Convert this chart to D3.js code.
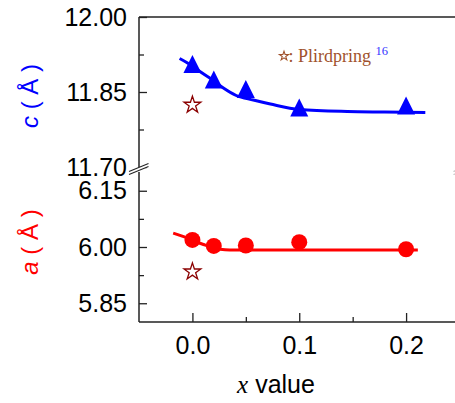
<!DOCTYPE html>
<html>
<head>
<meta charset="utf-8">
<script src="https://cdn.jsdelivr.net/npm/d3@7/dist/d3.min.js"></script>
<style>
  html, body { margin: 0; padding: 0; background: #fff; }
  svg { display: block; }
</style>
</head>
<body>
<div id="chart"></div>
<script>
// Lattice parameters versus substitution level x

// measured points
const xValues = [0.0, 0.02, 0.05, 0.1, 0.2];
const cValues = [11.906, 11.875, 11.856, 11.819, 11.823];
const aValues = [6.019, 6.003, 6.004, 6.013, 5.994];

// literature reference (star)
const refX = [0.0];
const refC = [11.824];
const refA = [5.934];

// fitted trend lines
const cFitX = [-0.012, 0.0, 0.007, 0.019, 0.029, 0.041, 0.057, 0.073, 0.1, 0.145, 0.18, 0.218];
const cFitY = [11.917, 11.902, 11.891, 11.874, 11.858, 11.843, 11.834, 11.826, 11.815, 11.811, 11.810, 11.809];
const aFitX = [-0.018, 0.0, 0.007, 0.012, 0.018, 0.026, 0.035, 0.1, 0.211];
const aFitY = [6.037, 6.019, 6.010, 6.005, 5.999, 5.994, 5.992, 5.992, 5.992];

// axis ticks
const xTicks = [0.0, 0.1, 0.2];
const xMinor = [0.05, 0.15];
const cTicks = [11.70, 11.85, 12.00];
const cMinor = [11.775, 11.925];
const aTicks = [5.85, 6.00, 6.15];
const aMinor = [5.925, 6.075];

const W = 455, H = 403;
const plotLeft = 139, plotRight = 459.5, plotTop = 17, plotBottom = 322;
const upperBottom = 167, lowerTop = 172;

const svg = d3.select("#chart").append("svg")
  .attr("width", W).attr("height", H);

const x = d3.scaleLinear().domain([-0.05, 0.25]).range([plotLeft, plotRight]);
const yc = d3.scaleLinear().domain([11.70, 12.00]).range([upperBottom, plotTop]);
const ya = d3.scaleLinear().domain([5.80, 6.20]).range([plotBottom, lowerTop]);

const axisColor = "#222";
const tickFont = "Liberation Sans, Arial, sans-serif";
const serifFont = "Liberation Serif, Times New Roman, serif";

// frame: top edge
svg.append("line").attr("x1", plotLeft).attr("x2", plotRight).attr("y1", plotTop).attr("y2", plotTop)
  .attr("stroke", axisColor).attr("stroke-width", 1.5);

function styleAxis(g) {
  g.select(".domain").remove();
  g.selectAll(".tick line").attr("stroke", axisColor).attr("stroke-width", 1.3);
  g.selectAll(".tick text").attr("fill", "#000")
    .style("font-family", tickFont).style("font-size", "25px");
}

// x axis
const gx = svg.append("g").attr("transform", `translate(0,${plotBottom})`)
  .call(d3.axisBottom(x).tickValues(xTicks).tickFormat(d3.format(".1f"))
    .tickSize(-9).tickPadding(14));
styleAxis(gx);
const gxm = svg.append("g").attr("transform", `translate(0,${plotBottom})`)
  .call(d3.axisBottom(x).tickValues(xMinor).tickFormat("").tickSize(-5));
styleAxis(gxm);
svg.append("line").attr("x1", plotLeft).attr("x2", plotRight).attr("y1", plotBottom).attr("y2", plotBottom)
  .attr("stroke", axisColor).attr("stroke-width", 1.5);

// upper y axis (c)
const gc = svg.append("g").attr("transform", `translate(${plotLeft},0)`)
  .call(d3.axisLeft(yc).tickValues(cTicks).tickFormat(d3.format(".2f"))
    .tickSize(-8).tickPadding(12));
styleAxis(gc);
const gcm = svg.append("g").attr("transform", `translate(${plotLeft},0)`)
  .call(d3.axisLeft(yc).tickValues(cMinor).tickFormat("").tickSize(-5));
styleAxis(gcm);

// lower y axis (a)
const ga = svg.append("g").attr("transform", `translate(${plotLeft},0)`)
  .call(d3.axisLeft(ya).tickValues(aTicks).tickFormat(d3.format(".2f"))
    .tickSize(-8).tickPadding(12));
styleAxis(ga);
const gam = svg.append("g").attr("transform", `translate(${plotLeft},0)`)
  .call(d3.axisLeft(ya).tickValues(aMinor).tickFormat("").tickSize(-5));
styleAxis(gam);

// vertical axis lines, split at the break
[[plotTop, upperBottom], [lowerTop, plotBottom]].forEach(([y1, y2]) => {
  svg.append("line").attr("x1", plotLeft).attr("x2", plotLeft).attr("y1", y1).attr("y2", y2)
    .attr("stroke", axisColor).attr("stroke-width", 1.5);
  svg.append("line").attr("x1", plotRight + 4).attr("x2", plotRight + 4).attr("y1", y1).attr("y2", y2)
    .attr("stroke", axisColor).attr("stroke-width", 1.5);
});

// break marks on both vertical axes
[plotLeft, plotRight + 4].forEach(cx => {
  const cy = (upperBottom + lowerTop) / 2;
  svg.append("path")
    .attr("d", `M${cx - 10},${cy + 2} L${cx + 9},${cy - 6} L${cx + 10},${cy - 3} L${cx - 9},${cy + 5} Z`)
    .attr("fill", "#fff");
  [-1.6, 1.6].forEach(off => {
    svg.append("line")
      .attr("x1", cx - 10).attr("y1", cy + 3.5 + off)
      .attr("x2", cx + 9.5).attr("y2", cy - 4.5 + off)
      .attr("stroke", cx > 300 ? "#bbb" : axisColor).attr("stroke-width", 1.1);
  });
});

// fit lines
const cLine = d3.line().x(i => x(cFitX[i])).y(i => yc(cFitY[i])).curve(d3.curveMonotoneX);
svg.append("path").attr("d", cLine(d3.range(cFitX.length)))
  .attr("fill", "none").attr("stroke", "#0000ff").attr("stroke-width", 3);
const aLine = d3.line().x(i => x(aFitX[i])).y(i => ya(aFitY[i])).curve(d3.curveMonotoneX);
svg.append("path").attr("d", aLine(d3.range(aFitX.length)))
  .attr("fill", "none").attr("stroke", "#ff0000").attr("stroke-width", 3);

// triangle marker: width and height of about 18 px, centred on its bounding box
const tri = {
  draw(ctx, size) {
    const h = Math.sqrt(size);
    ctx.moveTo(0, -h / 2);
    ctx.lineTo(h / 2, h / 2);
    ctx.lineTo(-h / 2, h / 2);
    ctx.closePath();
  }
};
svg.append("g").selectAll("path").data(d3.range(xValues.length)).join("path")
  .attr("transform", i => `translate(${x(xValues[i])},${yc(cValues[i])})`)
  .attr("d", d3.symbol(tri, 18 * 18))
  .attr("fill", "#0000ff");

svg.append("g").selectAll("circle").data(d3.range(xValues.length)).join("circle")
  .attr("cx", i => x(xValues[i])).attr("cy", i => ya(aValues[i]))
  .attr("r", 8).attr("fill", "#ff0000");

// reference stars
const star = d3.symbol(d3.symbolStar, 88);
svg.append("path").attr("d", star)
  .attr("transform", `translate(${x(refX[0])},${yc(refC[0])})`)
  .attr("fill", "#fff").attr("stroke", "#8b0000").attr("stroke-width", 1.3);
svg.append("path").attr("d", star)
  .attr("transform", `translate(${x(refX[0])},${ya(refA[0])})`)
  .attr("fill", "#fff").attr("stroke", "#8b0000").attr("stroke-width", 1.3);

// legend note
svg.append("path").attr("d", d3.symbol(d3.symbolStar, 26))
  .attr("transform", "translate(284,56)")
  .attr("fill", "#fff").attr("stroke", "#a0522d").attr("stroke-width", 1.1);
const note = svg.append("text").attr("x", 288.5).attr("y", 62)
  .style("font-family", serifFont).style("font-size", "18px");
note.append("tspan").attr("fill", "#a0522d").text(": Plirdpring ");
note.append("tspan").attr("fill", "#3333ff").attr("dy", -7).style("font-size", "12.5px").text("16");

// axis titles
const title = svg.append("text").attr("x", 276).attr("y", 393).attr("text-anchor", "middle")
  .style("font-size", "25px").attr("fill", "#000");
title.append("tspan").style("font-family", serifFont)
  .style("font-style", "italic").text("x");
title.append("tspan").style("font-family", tickFont).text(" value");

function yTitle(cx, cy, letter, color) {
  const t = svg.append("text").attr("transform", `translate(${cx},${cy}) rotate(-90)`)
    .attr("text-anchor", "middle").attr("fill", color)
    .style("font-family", tickFont).style("font-size", "24px");
  t.append("tspan").style("font-style", "italic").text(letter);
  t.append("tspan").text(" ( Å )");
}
yTitle(38, 96, "c", "#0000ff");
yTitle(38, 242, "a", "#ff0000");
</script>
</body>
</html>
